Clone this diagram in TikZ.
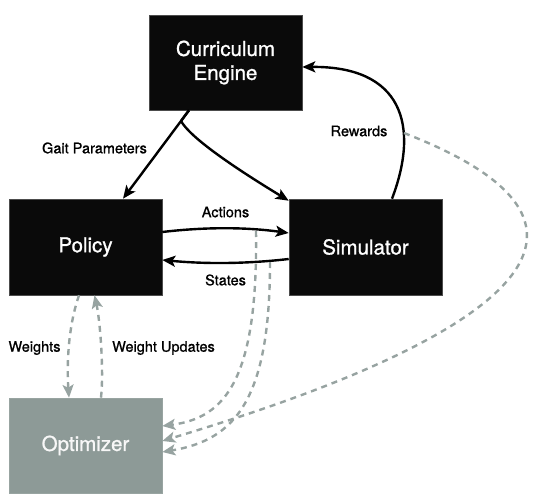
\documentclass[tikz,border=0pt]{standalone}
\usepackage{fontspec}
\setmainfont{TeX Gyre Heros}[BoldFont={TeX Gyre Heros}, BoldFeatures={FakeBold=1.0}]
\usetikzlibrary{arrows.meta}
\definecolor{optfill}{HTML}{8D9A97}
\definecolor{dashgray}{HTML}{97A3A1}
\definecolor{boxblack}{HTML}{0A0A0A}
\tikzset{
  blackbox/.style={fill=boxblack, draw=black!70, line width=0.6pt, minimum width=153pt, minimum height=95pt,
    text=white, align=center, inner sep=0pt, font=\fontsize{20.5}{24}\selectfont\bfseries},
  optbox/.style={blackbox, fill=optfill, draw=optfill!90!white, text=white!97!black},
  flow/.style={line width=2.4pt, draw=black, line join=round, -{Stealth[length=13pt,width=11pt,inset=3pt]}},
  dflow/.style={line width=2.4pt, draw=dashgray, dash pattern=on 6pt off 5pt,
    -{Stealth[length=13pt,width=11pt,inset=3pt]}},
  lbl/.style={font=\fontsize{14.5}{17}\selectfont\bfseries, inner sep=0pt}
}
\begin{document}
\begin{tikzpicture}[x=1pt,y=-1pt]
\useasboundingbox (0,0) rectangle (538,503);
\node[blackbox] (ce) at (225.5,62.5) {Curriculum\\Engine};
\node[blackbox, minimum height=96pt] (pol) at (85.5,247) {Policy};
\node[blackbox, minimum height=96pt] (sim) at (365.5,247) {Simulator};
\node[optbox] (opt) at (85.5,445.5) {Optimizer};

\coordinate (kink) at (181,121);
\coordinate (aTap) at (256,231);
\coordinate (sTap) at (270,262);
\coordinate (rTap) at (404,133);

% black connectors
\draw[flow] ([xshift=-36.5pt]ce.south) -- ([xshift=37.5pt]pol.north);
\draw[flow] ([xshift=-36.5pt]ce.south) -- (kink) .. controls (190,137) and (230,165) .. ([yshift=-2pt]sim.north west);
\draw[flow] ([xshift=26.5pt]sim.north) .. controls (420,125) and (402,66) .. ([yshift=-4.5pt]ce.east);
\draw[flow] ([yshift=15pt]pol.east) .. controls (205,227) and (245,227) .. ([yshift=14pt]sim.west);
\draw[flow] ([yshift=-12pt]sim.west) .. controls (245,264) and (205,264) .. ([yshift=-13pt]pol.east);

% gray dashed connectors
\draw[dflow] ([xshift=-6.5pt]pol.south) .. controls (67,330) and (67,370) .. ([xshift=-16.5pt]opt.north);
\draw[dflow] ([xshift=15.5pt]opt.north) .. controls (104,370) and (100,320) .. ([xshift=9pt]pol.south);
\draw[dflow] (aTap) .. controls (258,380) and (225,418) .. ([yshift=19.5pt]opt.east);
\draw[dflow] (sTap) .. controls (270,400) and (235,440) .. ([yshift=-6.5pt]opt.east);
\draw[dflow] (rTap) .. controls (745,265) and (280,405) .. ([yshift=4.5pt]opt.east);

% labels
\node[lbl] (lgait) at (94.5,148) {Gait Parameters};
\node[lbl] (lrew) at (359,131) {Rewards};
\node[lbl] (lact) at (225.5,212) {Actions};
\node[lbl] (lsta) at (225.5,280) {States};
\node[lbl] (lwt) at (34.5,348) {Weights};
\node[lbl] (lwu) at (163.5,348) {Weight Updates};
\end{tikzpicture}
\end{document}
